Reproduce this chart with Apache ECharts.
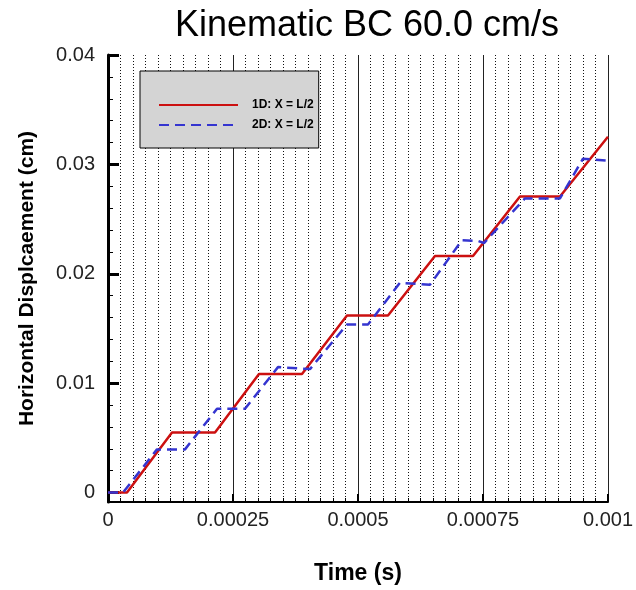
<!DOCTYPE html>
<html>
<head>
<meta charset="utf-8">
<script src="https://cdn.jsdelivr.net/npm/echarts@6/dist/echarts.min.js"></script>
<style>html,body{margin:0;padding:0;background:#fff}#c{width:636px;height:590px}</style>
</head>
<body>
<div id="c"></div>
<script>
// Data
var seriesNames = ['1D: X = L/2', '2D: X = L/2'];
var time1D = [0, 0.000038, 0.000128, 0.000214, 0.000302, 0.000388, 0.000478, 0.00056, 0.000654, 0.00073, 0.000824, 0.000904, 0.001];
var disp1D = [0, 0, 0.00549, 0.00549, 0.01084, 0.01084, 0.01619, 0.01619, 0.02163, 0.02163, 0.02707, 0.02707, 0.03252];
var time2D = [0, 0.00003, 0.000098, 0.000154, 0.000218, 0.000274, 0.00034, 0.000404, 0.000478, 0.00052, 0.000584, 0.000644, 0.000708, 0.00074, 0.000752, 0.000834, 0.000904, 0.00095, 0.001];
var disp2D = [0, 0, 0.00395, 0.00395, 0.00766, 0.00766, 0.01147, 0.01129, 0.01537, 0.01537, 0.01918, 0.0190, 0.02308, 0.0230, 0.02281, 0.02689, 0.02689, 0.03052, 0.03034];
var xTickValues = [0, 0.00025, 0.0005, 0.00075, 0.001];
var xTickLabels = ['0', '0.00025', '0.0005', '0.00075', '0.001'];
var yTickValues = [0, 0.01, 0.02, 0.03, 0.04];
var yTickLabels = ['0', '0.01', '0.02', '0.03', '0.04'];
var yMinorValues = [0,0.002,0.004,0.006,0.008,0.01,0.012,0.014,0.016,0.018,0.02,0.022,0.024,0.026,0.028,0.03,0.032,0.034,0.036,0.038,0.04];

function pairs(xs, ys){ return xs.map(function(x,i){ return [x, ys[i]]; }); }

var FONT = '"Liberation Sans", Arial, Helvetica, sans-serif';
var chart = echarts.init(document.getElementById('c'), null, {renderer:'canvas'});
var yMin = -0.00086;
chart.setOption({
  animation: false,
  backgroundColor: '#fff',
  title: {
    text: 'Kinematic BC 60.0 cm/s',
    left: 362, top: 3, textAlign: 'center',
    textStyle: {fontFamily: FONT, fontSize: 36, fontWeight: 'normal', color: '#000'}
  },
  legend: {
    orient: 'vertical',
    left: 140, top: 71,
    padding: [27, 5, 16, 18],
    itemWidth: 79, itemHeight: 14, itemGap: 6,
    backgroundColor: '#d4d4d4',
    borderColor: '#000', borderWidth: 1, borderRadius: 0,
    itemStyle: {opacity: 0},
    textStyle: {fontFamily: FONT, fontSize: 12, fontWeight: 'bold', color: '#000', padding: [0,0,0,9], height: 14, lineHeight: 14},
    data: seriesNames
  },
  grid: {left: 108, right: 26, top: 55, bottom: 84, containLabel: false},
  xAxis: {
    type: 'value', min: 0, max: 0.001, interval: 0.00025,
    name: 'Time (s)', nameLocation: 'middle', nameGap: 60,
    nameTextStyle: {fontFamily: FONT, fontSize: 23, fontWeight: 'bold', color: '#000'},
    axisLine: {show: true, onZero: false, lineStyle: {color: '#000', width: 2}},
    axisTick: {show: true, inside: true, length: 8, lineStyle: {color: '#000', width: 2}},
    minorTick: {show: true, splitNumber: 10, length: 4, lineStyle: {color: '#000', width: 1}},
    axisLabel: {
      margin: 8, fontFamily: FONT, fontSize: 20, color: '#222',
      formatter: function(v){ var i = xTickValues.findIndex(function(t){return Math.abs(t-v)<1e-9;}); return i>=0 ? xTickLabels[i] : ''; }
    },
    splitLine: {show: true, lineStyle: {color: '#222', width: 1, type: 'solid'}},
    minorSplitLine: {show: true, lineStyle: {color: '#111', width: 1, type: [1, 2]}}
  },
  yAxis: [{
    type: 'value', min: yMin, max: 0.04,
    name: 'Horizontal Displcaement (cm)', nameLocation: 'middle', nameGap: 70,
    nameTextStyle: {fontFamily: FONT, fontSize: 21, fontWeight: 'bold', color: '#000'},
    axisLine: {show: true, onZero: false, lineStyle: {color: '#000', width: 3}},
    axisTick: {show: true, inside: true, length: 11, customValues: yTickValues, lineStyle: {color: '#000', width: 3}},
    axisLabel: {
      show: true, margin: 13, fontFamily: FONT, fontSize: 20, color: '#222',
      customValues: yTickValues,
      formatter: function(v){ var i = yTickValues.findIndex(function(t){return Math.abs(t-v)<1e-9;}); return i>=0 ? yTickLabels[i] : ''; }
    },
    splitLine: {show: false}
  }, {
    type: 'value', min: yMin, max: 0.04, position: 'left',
    axisLine: {show: false},
    axisTick: {show: true, inside: true, length: 5, customValues: yMinorValues, lineStyle: {color: '#000', width: 1}},
    axisLabel: {show: false},
    splitLine: {show: false}
  }],
  series: [{
    name: seriesNames[0], type: 'line', yAxisIndex: 0,
    data: pairs(time1D, disp1D),
    showSymbol: false, symbol: 'none',
    lineStyle: {color: '#cc1010', width: 2.5},
    itemStyle: {color: '#cc1010'}
  }, {
    name: seriesNames[1], type: 'line', yAxisIndex: 0,
    data: pairs(time2D, disp2D),
    showSymbol: false, symbol: 'none',
    lineStyle: {color: '#3535d0', width: 2.5, type: [10, 6]},
    itemStyle: {color: '#3535d0'}
  }]
});
</script>
</body>
</html>
